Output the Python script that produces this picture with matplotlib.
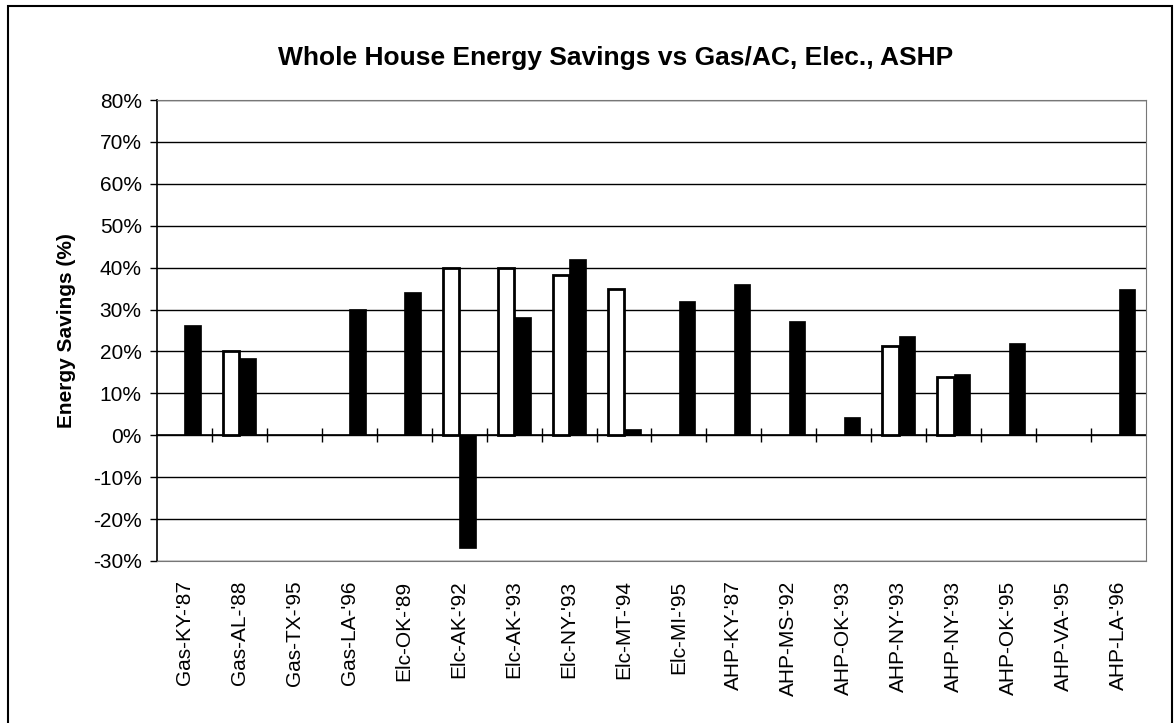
import matplotlib
matplotlib.use("Agg")
import matplotlib.pyplot as plt
import numpy as np
from matplotlib.patches import Rectangle
from matplotlib.ticker import PercentFormatter, FixedLocator

plt.rcParams['font.family'] = ['Liberation Sans', 'DejaVu Sans']
plt.rcParams['axes.unicode_minus'] = False

categories = ["Gas-KY-'87", "Gas-AL-'88", "Gas-TX-'95", "Gas-LA-'96", "Elc-OK-'89",
              "Elc-AK-'92", "Elc-AK-'93", "Elc-NY-'93", "Elc-MT-'94", "Elc-MI-'95",
              "AHP-KY-'87", "AHP-MS-'92", "AHP-OK-'93", "AHP-NY-'93", "AHP-NY-'93",
              "AHP-OK-'95", "AHP-VA-'95", "AHP-LA-'96"]
# white (outlined) bars, NaN = no bar
white_vals = [np.nan, 20, np.nan, np.nan, np.nan, 40, 40, 38.3, 35, np.nan,
              np.nan, np.nan, np.nan, 21.3, 13.8, np.nan, np.nan, np.nan]
# black bars
black_vals = [26.3, 18.4, np.nan, 30.2, 34.2, -26.8, 28.3, 42, 1.4, 32.1,
              36.1, 27.3, 4.4, 23.8, 14.6, 22.1, np.nan, 35]

fig = plt.figure(figsize=(11.75, 7.23), dpi=100)
ax = fig.add_axes([157 / 1175, 1 - 561 / 723, (1146 - 157) / 1175, (561 - 100) / 723])

x = np.arange(len(categories))
w = 0.3
ax.bar(x - w / 2, white_vals, w, color='white', edgecolor='black', linewidth=2, zorder=3)
ax.bar(x + w / 2, black_vals, w, color='black', edgecolor='black', linewidth=0.5, zorder=3)

ax.set_xlim(-0.5, len(categories) - 0.5)
ax.set_ylim(-30, 80)
ax.set_yticks(np.arange(-30, 81, 10))
ax.yaxis.set_major_formatter(PercentFormatter(decimals=0))
ax.yaxis.grid(True, color='black', linewidth=1, zorder=1)
ax.tick_params(axis='y', direction='out', length=5, width=1, labelsize=15, pad=6)

ax.set_xticks(x)
ax.set_xticklabels(categories, rotation=90, fontsize=15)
ax.tick_params(axis='x', length=0, pad=14)

for side in ['top', 'right', 'bottom']:
    ax.spines[side].set_color('#777777')
    ax.spines[side].set_linestyle((0, (1, 1)))
ax.spines['left'].set_linewidth(1.2)

# zero line with category separator ticks
zero_ax = ax.secondary_xaxis(30 / 110)
zero_ax.xaxis.set_major_locator(FixedLocator(np.arange(0.5, len(categories) - 1, 1)))
zero_ax.tick_params(direction='inout', length=10, width=1, labelbottom=False)
zero_ax.spines['bottom'].set_linewidth(1.2)

ax.set_ylabel("Energy Savings (%)", fontsize=15, fontweight='bold', labelpad=12)
fig.text(616 / 1175, 1 - 58 / 723, "Whole House Energy Savings vs Gas/AC, Elec., ASHP",
         ha='center', va='center', fontsize=19, fontweight='bold')

fig.patches.append(Rectangle((8 / 1175, -0.01), (1172 - 8) / 1175, 1.01 - 6 / 723,
                             transform=fig.transFigure, fill=False, edgecolor='black',
                             linewidth=1.5))

fig.savefig("out.png", dpi=100)
